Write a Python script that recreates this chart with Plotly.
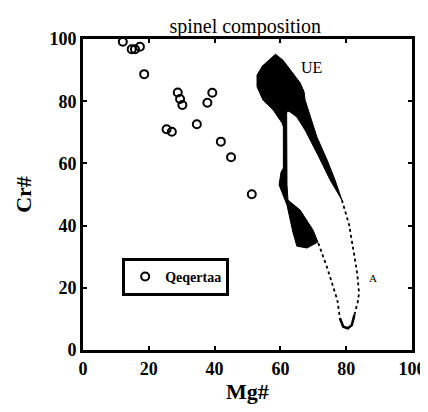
import plotly.graph_objects as go

# Qeqertaa spinel analyses (Mg#, Cr#)
qeq_mg = [12.1, 14.8, 15.8, 17.3, 18.6, 28.8, 29.5, 30.2, 39.3, 37.8, 25.4, 27.0, 34.6, 41.9, 45.0, 51.3]
qeq_cr = [99.1, 96.7, 96.7, 97.5, 88.7, 82.8, 80.7, 78.8, 82.7, 79.5, 71.0, 70.2, 72.6, 67.0, 62.0, 50.1]

# UE field outline (filled)
ue_mg = [58.4, 60.8, 66.0, 67.2, 67.5, 71.1, 74.2, 76.6, 78.7, 75.1, 71.4, 67.5, 65.0, 62.6, 61.9,
         61.9, 62.0, 62.3, 66.0, 69.9, 71.4, 68.1, 65.0, 63.8, 62.0, 59.6, 60.2, 60.9, 60.9, 60.5,
         57.8, 54.7, 52.9, 52.9, 54.7]
ue_cr = [95.2, 93.2, 85.9, 83.0, 80.4, 68.5, 61.1, 54.7, 48.2, 54.7, 62.7, 70.7, 74.9, 76.8, 76.5,
         58.5, 53.1, 48.2, 45.0, 38.6, 34.7, 32.8, 33.4, 37.9, 46.6, 53.1, 57.2, 58.5, 71.7, 73.0,
         77.2, 80.4, 84.6, 88.4, 91.6]

# Dotted field "A"
a_mg = [78.7, 80.9, 82.7, 83.4, 83.9, 83.5, 82.5, 81.7, 80.5, 79.1, 78.1, 77.3, 74.1, 72.9, 71.4]
a_cr = [48.2, 40.2, 28.9, 24.1, 18.3, 15.4, 11.3, 8.0, 7.0, 7.5, 10.2, 16.1, 26.8, 30.5, 34.7]

x_ticks = [0, 20, 40, 60, 80, 100]
y_ticks = [0, 20, 40, 60, 80, 100]

SERIF = "Liberation Serif, Times New Roman, serif"

fig = go.Figure()
fig.add_trace(go.Scatter(x=ue_mg, y=ue_cr, mode="lines", fill="toself",
                         fillcolor="black", line=dict(color="black", width=1),
                         showlegend=False, hoverinfo="skip"))
fig.add_trace(go.Scatter(x=a_mg, y=a_cr, mode="lines",
                         line=dict(color="black", width=1.8, dash="dot"),
                         showlegend=False, hoverinfo="skip"))
fig.add_trace(go.Scatter(x=a_mg[6:11], y=a_cr[6:11], mode="lines",
                         line=dict(color="black", width=2.5),
                         showlegend=False, hoverinfo="skip"))
fig.add_trace(go.Scatter(x=qeq_mg, y=qeq_cr, mode="markers", name="Qeqertaa",
                         marker=dict(symbol="circle-open", size=8, color="black",
                                     line=dict(width=2, color="black"))))

fig.add_annotation(x=69.6, y=90.7, text="UE", showarrow=False,
                   font=dict(family=SERIF, size=16, color="black"))
fig.add_annotation(x=88.0, y=23.0, text="A", showarrow=False,
                   font=dict(family=SERIF, size=11, color="black"))

axis_common = dict(showgrid=False, zeroline=False, showline=True, mirror="ticks",
                   linecolor="black", linewidth=3, ticks="inside", ticklen=4,
                   tickwidth=2, tickcolor="black", automargin=False,
                   ticklabeloverflow="allow",
                   tickfont=dict(family=SERIF, size=18, color="black", weight="bold"))

fig.update_xaxes(range=[0, 100], tickvals=x_ticks, ticktext=[str(v) for v in x_ticks],
                 title=dict(text="Mg#", font=dict(family=SERIF, size=22, color="black", weight="bold"),
                            standoff=9),
                 **axis_common)
fig.update_yaxes(range=[0, 100], tickvals=y_ticks, ticktext=[str(v) for v in y_ticks],
                 title=dict(text="Cr#", font=dict(family=SERIF, size=22, color="black", weight="bold"),
                            standoff=12),
                 **axis_common)

# page body has an 8px default margin, so the figure is drawn smaller and shifted
fig.update_layout(
    width=420, height=396,
    margin=dict(l=75, r=16, t=31, b=54, autoexpand=False),
    paper_bgcolor="white", plot_bgcolor="white",
    title=dict(text="spinel composition", x=0.565, xanchor="center", y=0.954, yanchor="middle",
               font=dict(family=SERIF, size=20, color="black"), automargin=False),
    legend=dict(x=0.119, y=0.296, xanchor="left", yanchor="top",
                bordercolor="black", borderwidth=3, bgcolor="white",
                font=dict(family=SERIF, size=14, color="black", weight="bold"),
                itemwidth=30, tracegroupgap=0),
)

fig.write_html("out.html")
